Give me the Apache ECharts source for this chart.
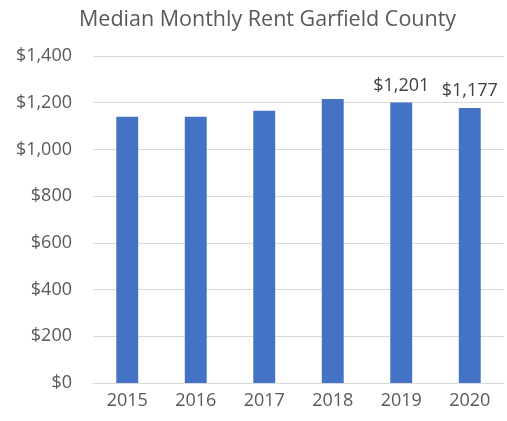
<!DOCTYPE html>
<html>
<head>
<meta charset="utf-8">
<script src="https://cdn.jsdelivr.net/npm/echarts@6/dist/echarts.min.js"></script>
<style>
  html, body { margin: 0; padding: 0; background: #fff; }
  #chart { width: 507px; height: 421px; }
</style>
</head>
<body>
<div id="chart"></div>
<script>
// Median monthly rent by year
const years = ['2015', '2016', '2017', '2018', '2019', '2020'];
const rent = [1140, 1140, 1166, 1216, 1201, 1177];
// Only the last two years carry a value label
const labelledYears = ['2019', '2020'];
const yTicks = [0, 200, 400, 600, 800, 1000, 1200, 1400];

const FONT = 'Open Sans';
const GREY = '#595959';

const fmt = v => '$' + v.toLocaleString('en-US');

const chart = echarts.init(document.getElementById('chart'), null, { renderer: 'canvas' });
chart.setOption({
  animation: false,
  title: {
    text: 'Median Monthly Rent Garfield County',
    left: 74,
    top: 4,
    textStyle: { fontFamily: FONT, fontSize: 21.5, fontWeight: 'normal', color: GREY }
  },
  grid: { left: 93, right: 3, top: 56, bottom: 38, containLabel: false },
  xAxis: {
    type: 'category',
    data: years,
    axisLine: { lineStyle: { color: '#d9d9d9', width: 1 } },
    axisTick: { show: false },
    axisLabel: { fontFamily: FONT, fontSize: 18, color: GREY, margin: 9 }
  },
  yAxis: {
    type: 'value',
    min: yTicks[0],
    max: yTicks[yTicks.length - 1],
    interval: yTicks[1] - yTicks[0],
    axisLine: { show: false },
    axisTick: { show: false },
    splitLine: { lineStyle: { color: '#d9d9d9', width: 1 } },
    axisLabel: { fontFamily: FONT, fontSize: 18, color: GREY, margin: 21, formatter: fmt }
  },
  series: [{
    type: 'bar',
    data: rent.map((v, i) => ({
      value: v,
      label: {
        show: labelledYears.includes(years[i]),
        position: 'top',
        distance: 8,
        formatter: p => fmt(p.value),
        fontFamily: FONT,
        fontSize: 18,
        color: '#404040'
      }
    })),
    barWidth: '32%',
    itemStyle: { color: '#4472c4' }
  }]
});
</script>
</body>
</html>
